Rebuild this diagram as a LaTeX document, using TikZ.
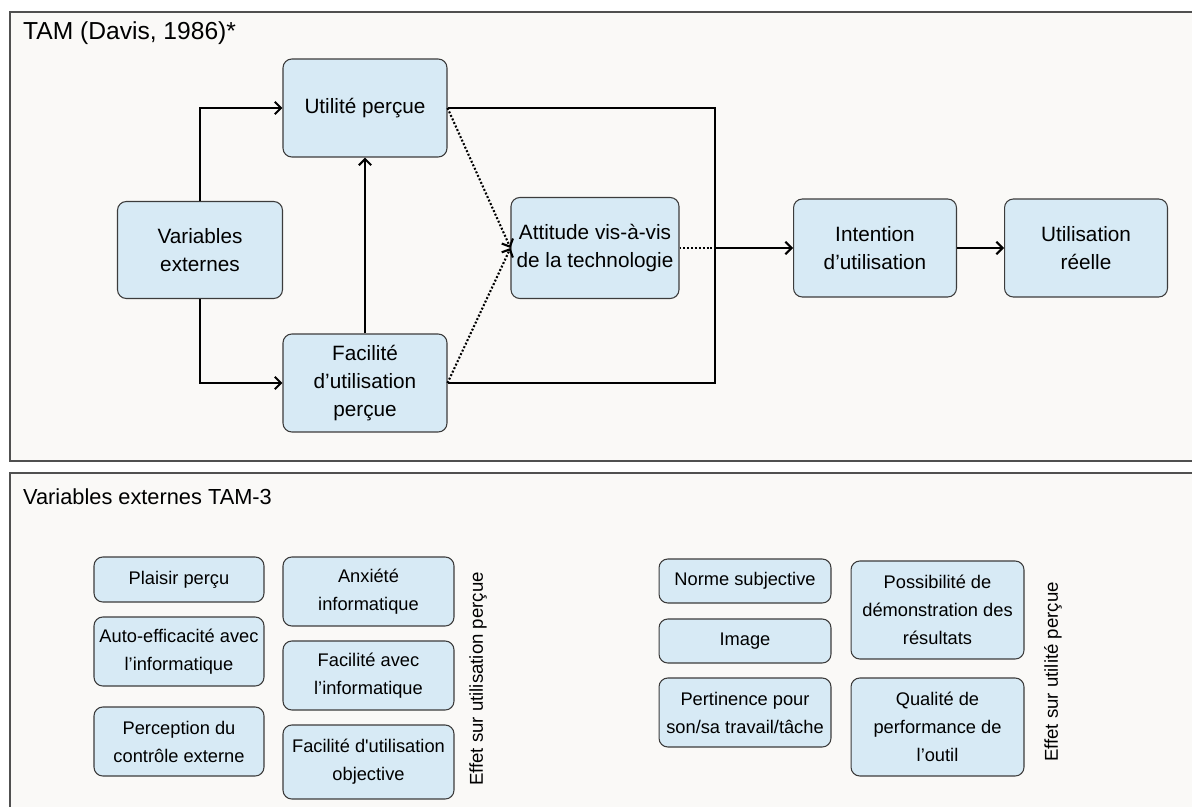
\documentclass[tikz,border=0pt]{standalone}
\usepackage{fontspec}
\setmainfont{Liberation Sans}
\usetikzlibrary{arrows.meta}

\definecolor{boxblue}{HTML}{D7EAF5}
\definecolor{boxline}{HTML}{3C3C3C}
\definecolor{panelbg}{HTML}{FAF9F7}
\definecolor{panelline}{HTML}{505050}

\tikzset{
  bigbox/.style={draw=boxline, fill=boxblue, line width=0.6pt, rounded corners=5pt,
    align=center, inner sep=0pt, font=\fontsize{11.8}{15.9}\selectfont},
  smallbox/.style={draw=boxline, fill=boxblue, line width=0.6pt, rounded corners=5pt,
    align=center, inner sep=0pt, font=\fontsize{10.4}{15.9}\selectfont},
  arr/.style={line width=1.2pt, -{Straight Barb[length=3.5pt,width=7pt]}},
  dotarr/.style={line width=1.2pt, dash pattern=on 1.1pt off 1.1pt, -{Straight Barb[length=3.5pt,width=7pt]}},
  link/.style={line width=1.2pt},
  dotlink/.style={line width=1.2pt, dash pattern=on 1.1pt off 1.1pt}
}

\begin{document}
\begin{tikzpicture}[x=0.02cm, y=-0.02cm]
    \useasboundingbox (0,0) rectangle (1192,807);
    \clip (0,0) rectangle (1192,807);
    \fill[white] (0,0) rectangle (1192,807);

    % Panels
    \draw[panelline, fill=panelbg, line width=0.75pt] (10,12) rectangle (1200,461);
    \draw[panelline, fill=panelbg, line width=0.75pt] (10,473) rectangle (1200,820);

    \node[anchor=west, font=\fontsize{14}{16}\selectfont] (tamtitle) at (17,33) {TAM (Davis, 1986)*};
    \node[anchor=west, font=\fontsize{12.4}{15}\selectfont] (vartitle) at (17,497) {Variables externes TAM-3};

    % TAM model
    \node[bigbox, minimum width=3.3cm, minimum height=1.94cm] (ve) at (200,250) {Variables\\externes};
    \node[bigbox, minimum width=3.28cm, minimum height=1.96cm] (up) at (365,108) {Utilité perçue};
    \node[bigbox, minimum width=3.28cm, minimum height=1.96cm] (fu) at (365,383) {Facilité\\d’utilisation\\perçue};
    \node[bigbox, minimum width=3.36cm, minimum height=2.02cm] (att) at (595,248) {Attitude vis-à-vis\\de la technologie};
    \node[bigbox, minimum width=3.26cm, minimum height=1.96cm] (int) at (875,248) {Intention\\d’utilisation};
    \node[bigbox, minimum width=3.26cm, minimum height=1.96cm] (ur) at (1086,248) {Utilisation\\réelle};
    \coordinate (bus) at (715,248);

    \draw[arr] (ve.north) |- (up.west);
    \draw[arr] (ve.south) |- (fu.west);
    \draw[arr] (fu) -- (up);
    \draw[dotarr] (up.east) -- (att.west);
    \draw[dotarr] (fu.east) -- (att.west);
    \draw[link] (up.east) -| (bus) |- (fu.east);
    \draw[dotlink] (att.east) -- (bus);
    \draw[arr] (bus) -- (int.west);
    \draw[arr] (int) -- (ur);

    % Effet sur utilisation percue
    \node[smallbox, minimum width=3.4cm, minimum height=0.9cm] (plaisir) at (179,579.5) {Plaisir perçu};
    \node[smallbox, minimum width=3.4cm, minimum height=1.38cm] (autoeff) at (179,651.5) {Auto-efficacité avec\\l’informatique};
    \node[smallbox, minimum width=3.4cm, minimum height=1.38cm] (controle) at (179,741.5) {Perception du\\contrôle externe};
    \node[smallbox, minimum width=3.42cm, minimum height=1.38cm] (anxiete) at (368.5,591.5) {Anxiété\\informatique};
    \node[smallbox, minimum width=3.42cm, minimum height=1.38cm] (facinfo) at (368.5,675.5) {Facilité avec\\l’informatique};
    \node[smallbox, minimum width=3.42cm, minimum height=1.48cm] (facobj) at (368.5,762) {Facilité d\textquotesingle utilisation\\objective};
    \node[rotate=90, font=\fontsize{10.6}{12}\selectfont] (effup) at (478,679) {Effet sur utilisation perçue};

    % Effet sur utilite percue
    \node[smallbox, minimum width=3.44cm, minimum height=0.88cm] (norme) at (745,581) {Norme subjective};
    \node[smallbox, minimum width=3.44cm, minimum height=0.88cm] (image) at (745,641) {Image};
    \node[smallbox, minimum width=3.44cm, minimum height=1.38cm] (pertinence) at (745,712.5) {Pertinence pour\\son/sa travail/tâche};
    \node[smallbox, minimum width=3.46cm, minimum height=1.96cm] (demo) at (937.5,610) {Possibilité de\\démonstration des\\résultats};
    \node[smallbox, minimum width=3.46cm, minimum height=1.96cm] (qualite) at (937.5,727) {Qualité de\\performance de\\l’outil};
    \node[rotate=90, font=\fontsize{10.6}{12}\selectfont] (effuu) at (1053,672) {Effet sur utilité perçue};
\end{tikzpicture}
\end{document}
